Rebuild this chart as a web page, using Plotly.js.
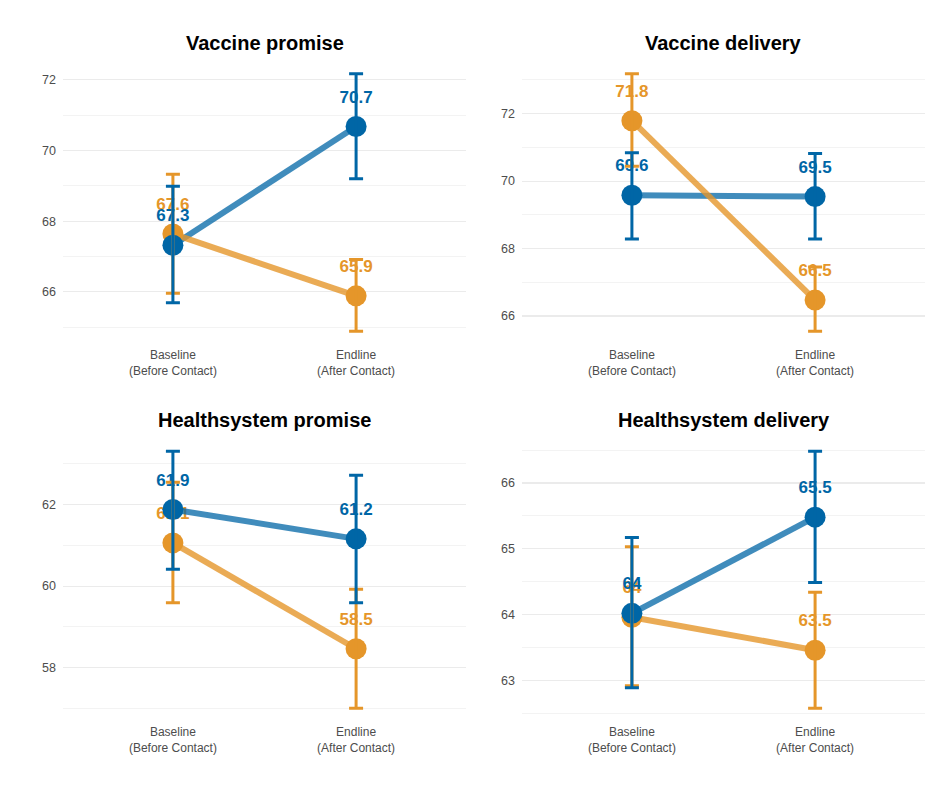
<!DOCTYPE html>
<html>
<head>
<meta charset="utf-8">
<script src="https://cdn.plot.ly/plotly-3.0.1.min.js"></script>
<style>html,body{margin:0;padding:0;background:#fff;}#chart{width:936px;height:785px;}</style>
</head>
<body>
<div id="chart"></div>
<script>
// ---- data ----
const categories = ['Baseline<br>(Before Contact)', 'Endline<br>(After Contact)'];
const panelTitles = ['Vaccine promise', 'Vaccine delivery', 'Healthsystem promise', 'Healthsystem delivery'];

const vpBlue = [67.32, 70.68];
const vpBlueLo = [65.69, 69.20];
const vpBlueHi = [68.99, 72.17];
const vpOrange = [67.64, 65.89];
const vpOrangeLo = [65.96, 64.89];
const vpOrangeHi = [69.33, 66.92];

const vdBlue = [69.58, 69.54];
const vdBlueLo = [68.28, 68.28];
const vdBlueHi = [70.84, 70.82];
const vdOrange = [71.79, 66.47];
const vdOrangeLo = [70.44, 65.55];
const vdOrangeHi = [73.18, 67.45];

const hpBlue = [61.88, 61.16];
const hpBlueLo = [60.41, 59.59];
const hpBlueHi = [63.31, 62.72];
const hpOrange = [61.06, 58.46];
const hpOrangeLo = [59.59, 57.00];
const hpOrangeHi = [62.55, 59.92];

const hdBlue = [64.02, 65.48];
const hdBlueLo = [62.89, 64.49];
const hdBlueHi = [65.17, 66.48];
const hdOrange = [63.96, 63.46];
const hdOrangeLo = [62.92, 62.58];
const hdOrangeHi = [65.03, 64.34];

const majorStep = [2, 2, 2, 1];

// ---- styles ----
const BLUE = '#0066A6';
const ORANGE = '#E5962A';
const BLUE_LINE = 'rgba(0,102,166,0.75)';
const ORANGE_LINE = 'rgba(229,150,42,0.8)';
const FONT = 'Liberation Sans, Arial, sans-serif';

const panels = [
  {b: vpBlue, bl: vpBlueLo, bh: vpBlueHi, o: vpOrange, ol: vpOrangeLo, oh: vpOrangeHi},
  {b: vdBlue, bl: vdBlueLo, bh: vdBlueHi, o: vdOrange, ol: vdOrangeLo, oh: vdOrangeHi},
  {b: hpBlue, bl: hpBlueLo, bh: hpBlueHi, o: hpOrange, ol: hpOrangeLo, oh: hpOrangeHi},
  {b: hdBlue, bl: hdBlueLo, bh: hdBlueHi, o: hdOrange, ol: hdOrangeLo, oh: hdOrangeHi}
];

const xDomains = [[63/936, 466/936], [522/936, 925/936]];
const yDomains = [[1 - 344/785, 1 - 61/785], [1 - 721/785, 1 - 438.5/785]];

const label = v => String(Math.round(v * 10) / 10);

const traces = [];
const layout = {
  width: 936, height: 785,
  margin: {l: 0, r: 0, t: 0, b: 0},
  paper_bgcolor: '#fff', plot_bgcolor: '#fff',
  showlegend: false, hovermode: false,
  font: {family: FONT},
  annotations: []
};

panels.forEach((p, i) => {
  const n = i + 1;
  const xa = 'x' + (n === 1 ? '' : n), ya = 'y' + (n === 1 ? '' : n);
  const col = i % 2, row = Math.floor(i / 2);
  const lo = Math.min(...p.bl, ...p.ol), hi = Math.max(...p.bh, ...p.oh);
  const pad = (hi - lo) * 0.05;

  layout['xaxis' + (n === 1 ? '' : n)] = {
    domain: xDomains[col], anchor: ya, type: 'category',
    categoryorder: 'array', categoryarray: categories,
    range: [-0.6, 1.6], showgrid: false, zeroline: false, showline: false,
    ticks: '', ticklabelstandoff: 2,
    tickfont: {size: 12, color: '#4D4D4D', family: FONT}
  };
  layout['yaxis' + (n === 1 ? '' : n)] = {
    domain: yDomains[row], anchor: xa,
    range: [lo - pad, hi + pad], dtick: majorStep[i], tick0: 0,
    showgrid: true, gridcolor: '#EBEBEB', gridwidth: 1.1,
    minor: {dtick: majorStep[i] / 2, tick0: 0, showgrid: true, gridcolor: '#F0F0F0', gridwidth: 0.8},
    zeroline: false, showline: false, ticks: '', ticklabelstandoff: 6,
    tickfont: {size: 12.5, color: '#4D4D4D', family: FONT}
  };
  layout.annotations.push({
    text: '<b>' + panelTitles[i] + '</b>', xref: 'paper', yref: 'paper',
    x: (xDomains[col][0] + xDomains[col][1]) / 2,
    y: row === 0 ? 1 - 43/785 : 1 - 420/785,
    xanchor: 'center', yanchor: 'middle', showarrow: false,
    font: {size: 20, color: '#000', family: FONT}
  });

  const base = {xaxis: xa, yaxis: ya, x: categories, hoverinfo: 'skip', cliponaxis: false};
  // labels
  [[p.o, ORANGE], [p.b, BLUE]].forEach(([v, c]) => {
    traces.push(Object.assign({}, base, {
      y: v, mode: 'markers+text', text: v.map(label), textposition: 'top center',
      marker: {size: 30, opacity: 0}, textfont: {size: 17, color: c, family: FONT, weight: 'bold'}
    }));
  });
  // lines
  traces.push(Object.assign({}, base, {y: p.b, mode: 'lines', line: {color: BLUE_LINE, width: 6}}));
  traces.push(Object.assign({}, base, {y: p.o, mode: 'lines', line: {color: ORANGE_LINE, width: 6}}));
  // points
  traces.push(Object.assign({}, base, {y: p.o, mode: 'markers', marker: {size: 21, color: ORANGE}}));
  traces.push(Object.assign({}, base, {y: p.b, mode: 'markers', marker: {size: 21, color: BLUE}}));
  // error bars
  [[p.o, p.ol, p.oh, ORANGE], [p.b, p.bl, p.bh, BLUE]].forEach(([v, l, h, c]) => {
    traces.push(Object.assign({}, base, {
      y: v, mode: 'markers', marker: {size: 1, opacity: 0},
      error_y: {type: 'data', symmetric: false,
        array: h.map((hv, k) => hv - v[k]), arrayminus: l.map((lv, k) => v[k] - lv),
        color: c, thickness: 3, width: 7}
    }));
  });
});

Plotly.newPlot('chart', traces, layout, {displayModeBar: false, staticPlot: true});
</script>
</body>
</html>
